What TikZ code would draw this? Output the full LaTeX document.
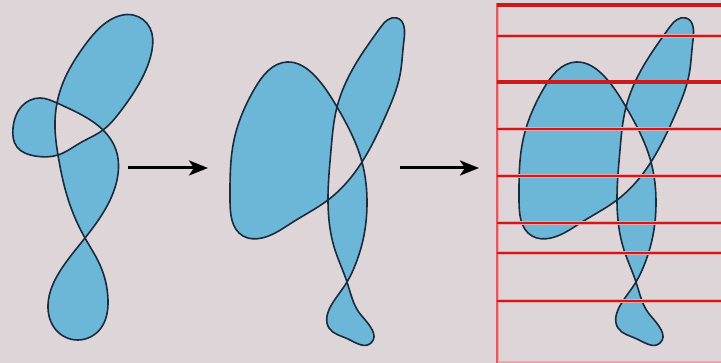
\documentclass[tikz,border=0pt]{standalone}
\usetikzlibrary{arrows.meta,hobby}
\definecolor{bgc}{HTML}{DDD5D8}
\definecolor{blobfill}{HTML}{6CB6D8}
\definecolor{blobline}{HTML}{1B2B3B}
\definecolor{redline}{HTML}{CC1A1A}
\definecolor{redglow}{HTML}{EFA3A8}
\tikzset{
  blob/.style={fill=blobfill, draw=blobline, line width=1.6pt, even odd rule, line join=round, use Hobby shortcut, closed=true},
  flowarrow/.style={line width=3pt, draw=black, -{Stealth[length=19pt,width=15pt,inset=5pt]}},
  glowline/.style={draw=redglow, line width=#1},
  rline/.style={draw=redline, line width=#1},
  figB/.pic={
    \path[blob] (397,18) .. (404,40) .. (400,75) .. (386,115) .. (362,162)
      .. (328,200) .. (293,222) .. (262,238) .. (243,236)
      .. (230,200) .. (234,140) .. (255,88) .. (287,62) .. (315,76) .. (337,107)
      .. (362,162)
      .. (367,205) .. (363,240) .. (356,263) .. (347,282)
      .. (332,304) .. (329,328) .. (348,339) .. (371,343) .. (361,315) .. (347,282)
      .. (335,250) .. (328,200) .. (331,150) .. (337,107)
      .. (355,65) .. (380,28);
  }
}
\begin{document}
\begin{tikzpicture}[x=1pt,y=-1pt]
\fill[bgc] (0,0) rectangle (721,363);
\useasboundingbox (0,0) rectangle (721,363);
% figure 1
\path[blob] (133,15) .. (150,28) .. (152,50) .. (140,82) .. (120,112) .. (103,130)
  .. (80,143) .. (58,155)
  .. (35,156) .. (17,147) .. (13,128) .. (22,106) .. (40,98) .. (57,103)
  .. (80,114) .. (103,130)
  .. (116,150) .. (117,180) .. (103,213) .. (85,238)
  .. (62,268) .. (48,305) .. (56,330) .. (78,340) .. (101,328) .. (108,300) .. (100,265) .. (85,238)
  .. (70,205) .. (58,155) .. (55,128) .. (57,103) .. (65,78) .. (85,45) .. (110,20);
% figure 2 and 3
\pic at (0,0) {figB};
\pic at (289,0) {figB};
% arrows
\coordinate (a1s) at (128,168); \coordinate (a1e) at (208,168);
\coordinate (a2s) at (400,168); \coordinate (a2e) at (479,168);
\draw[flowarrow] (a1s) -- (a1e);
\draw[flowarrow] (a2s) -- (a2e);
% red grid
\foreach \y/\w in {5/3.2, 36/2, 82/3.2, 129/2, 176/2, 223/2, 253/2, 301/2} {
  \draw[glowline=\w+1.6pt] (497,\y) -- (721,\y);
}
\draw[glowline=3pt] (497,3) -- (497,363);
\draw[glowline=1.5pt] (497,362) -- (721,362);
\draw[draw=redline!70, line width=1.4pt] (497,3) -- (497,363);
\foreach \y/\w in {5/3.2, 36/2, 82/3.2, 129/2, 176/2, 223/2, 253/2, 301/2} {
  \draw[rline=\w pt] (497,\y) -- (721,\y);
}
\end{tikzpicture}
\end{document}
